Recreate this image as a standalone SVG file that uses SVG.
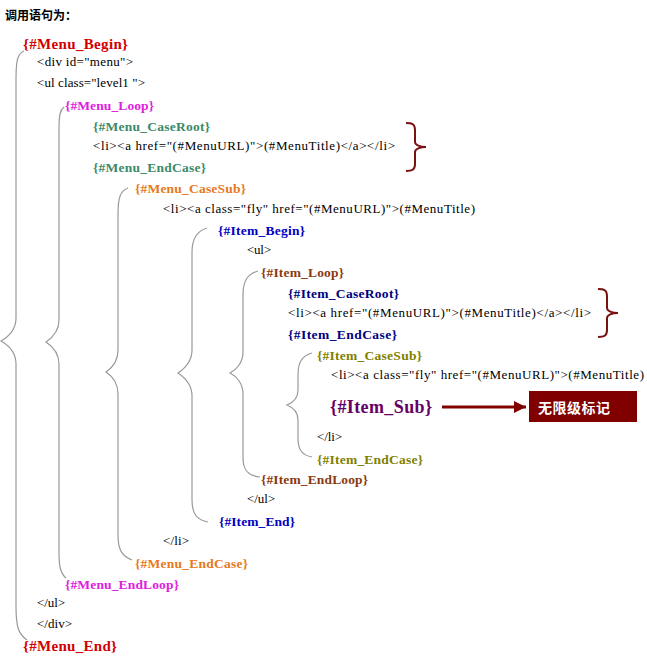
<svg xmlns="http://www.w3.org/2000/svg" width="647" height="660" viewBox="0 0 647 660">
<style>
.t{font-family:"Liberation Serif","Times New Roman",serif;font-size:13px;fill:#000}
.b{font-family:"Liberation Serif","Times New Roman",serif;font-size:13.5px;font-weight:bold}
.r{fill:#d40000;font-size:15px}
.ml{fill:#e020e0}
.mg{fill:#3a8a6a}
.mo{fill:#e87820}
.ib{fill:#0000c0}
.il{fill:#8b3a10}
.in{fill:#000080}
.io{fill:#808000}
.br{fill:none;stroke:#999;stroke-width:1.2}
.rb{fill:none;stroke:#7a1010;stroke-width:2}
</style>
<defs>
<marker id="ah" viewBox="0 0 10 10" refX="10" refY="5" markerWidth="4" markerHeight="4" orient="auto" markerUnits="strokeWidth">
<path d="M0,0 L10,5 L0,10 z" fill="#800000"/>
</marker>
</defs>
<rect width="647" height="660" fill="#fff"/>
<text x="5" y="20" style="font-family:'Noto Sans CJK SC',sans-serif;font-size:12px;font-weight:bold" textLength="72">调用语句为：</text>

<g id="connectors">
<path class="br" d="M24,51 C17,54 16,62 16,80 L16,318 C16,330 8,337 1,341 C8,345 16,352 16,364 L16,606 C16,626 18,634 27,640"/>
<path class="br" d="M64,107 C60,110 59,115 59,130 L59,320 C59,332 52,338 46,342 C52,346 59,352 59,364 L59,552 C59,565 60,573 66,578"/>
<path class="br" d="M128,188 C120,191 118,198 118,215 L118,350 C118,362 112,368 106,372 C112,376 118,382 118,394 L118,535 C118,550 122,556 132,560"/>
<path class="br" d="M207,228 C197,231 192,238 192,252 L192,350 C192,362 184,369 178,373 C184,377 192,384 192,396 L192,500 C192,514 197,520 208,522"/>
<path class="br" d="M258,271 C248,274 243,280 243,295 L243,352 C243,363 236,370 230,373 C236,376 243,383 243,394 L243,458 C243,470 248,476 260,477"/>
<path class="br" d="M312,353 C302,356 298,362 298,375 L298,390 C298,399 292,403 287,405 C292,407 298,411 298,420 L298,438 C298,450 302,455 312,457"/>
<path class="rb" d="M406,123 C412,123 415,124 415,130 L415,142 C415,145 420,147 426,147 C420,147 415,149 415,152 L415,164 C415,170 412,171 406,171"/>
<path class="rb" d="M598,289 C604,289 607,290 607,296 L607,308 C607,311 612,313 618,313 C612,313 607,315 607,318 L607,330 C607,336 604,337 598,337"/>
<line x1="442" y1="407" x2="526" y2="407" stroke="#800000" stroke-width="3" marker-end="url(#ah)"/>
</g>

<g id="menu-begin"><text class="b r" x="23" y="49" textLength="105">{#Menu_Begin}</text></g>
<g id="div-open"><text class="t" x="37" y="66" textLength="96">&lt;div id="menu"&gt;</text></g>
<g id="ul-open"><text class="t" x="37" y="87" textLength="108">&lt;ul class="level1 "&gt;</text></g>
<g id="menu-loop"><text class="b ml" x="65" y="110" textLength="89">{#Menu_Loop}</text></g>
<g id="menu-caseroot"><text class="b mg" x="93" y="131" textLength="117">{#Menu_CaseRoot}</text></g>
<g id="menu-li"><text class="t" x="93" y="150" textLength="302">&lt;li&gt;&lt;a href="(#MenuURL)"&gt;(#MenuTitle)&lt;/a&gt;&lt;/li&gt;</text></g>
<g id="menu-endcase1"><text class="b mg" x="93" y="172" textLength="113">{#Menu_EndCase}</text></g>
<g id="menu-casesub"><text class="b mo" x="135" y="193" textLength="111">{#Menu_CaseSub}</text></g>
<g id="menu-li-fly"><text class="t" x="163" y="213" textLength="312">&lt;li&gt;&lt;a class="fly" href="(#MenuURL)"&gt;(#MenuTitle)</text></g>
<g id="item-begin"><text class="b ib" x="218" y="235" textLength="87">{#Item_Begin}</text></g>
<g id="item-ul-open"><text class="t" x="247" y="254" textLength="24">&lt;ul&gt;</text></g>
<g id="item-loop"><text class="b il" x="261" y="277" textLength="83">{#Item_Loop}</text></g>
<g id="item-caseroot"><text class="b in" x="288" y="298" textLength="111">{#Item_CaseRoot}</text></g>
<g id="item-li"><text class="t" x="288" y="317" textLength="303">&lt;li&gt;&lt;a href="(#MenuURL)"&gt;(#MenuTitle)&lt;/a&gt;&lt;/li&gt;</text></g>
<g id="item-endcase1"><text class="b in" x="288" y="339" textLength="109">{#Item_EndCase}</text></g>
<g id="item-casesub"><text class="b io" x="317" y="360" textLength="105">{#Item_CaseSub}</text></g>
<g id="item-li-fly"><text class="t" x="331" y="379" textLength="313">&lt;li&gt;&lt;a class="fly" href="(#MenuURL)"&gt;(#MenuTitle)</text></g>
<g id="item-sub"><text x="330" y="413" style="font-family:'Liberation Serif',serif;font-size:18px;font-weight:bold;fill:#660066" textLength="102">{#Item_Sub}</text></g>
<g id="tag-box"><rect x="529" y="391" width="108" height="31" fill="#800000"/><text x="538" y="413" style="font-family:'Noto Sans CJK SC',sans-serif;font-size:14px;font-weight:bold;fill:#fff" textLength="72">无限级标记</text></g>
<g id="item-li-close"><text class="t" x="317" y="441" textLength="25">&lt;/li&gt;</text></g>
<g id="item-endcase2"><text class="b io" x="317" y="464" textLength="106">{#Item_EndCase}</text></g>
<g id="item-endloop"><text class="b il" x="261" y="484" textLength="107">{#Item_EndLoop}</text></g>
<g id="item-ul-close"><text class="t" x="247" y="503" textLength="28">&lt;/ul&gt;</text></g>
<g id="item-end"><text class="b ib" x="219" y="526" textLength="76">{#Item_End}</text></g>
<g id="menu-li-close"><text class="t" x="163" y="545" textLength="26">&lt;/li&gt;</text></g>
<g id="menu-endcase2"><text class="b mo" x="135" y="568" textLength="113">{#Menu_EndCase}</text></g>
<g id="menu-endloop"><text class="b ml" x="65" y="589" textLength="114">{#Menu_EndLoop}</text></g>
<g id="ul-close"><text class="t" x="37" y="607" textLength="28">&lt;/ul&gt;</text></g>
<g id="div-close"><text class="t" x="37" y="628" textLength="35">&lt;/div&gt;</text></g>
<g id="menu-end"><text class="b r" x="23" y="651" textLength="94">{#Menu_End}</text></g>
</svg>
